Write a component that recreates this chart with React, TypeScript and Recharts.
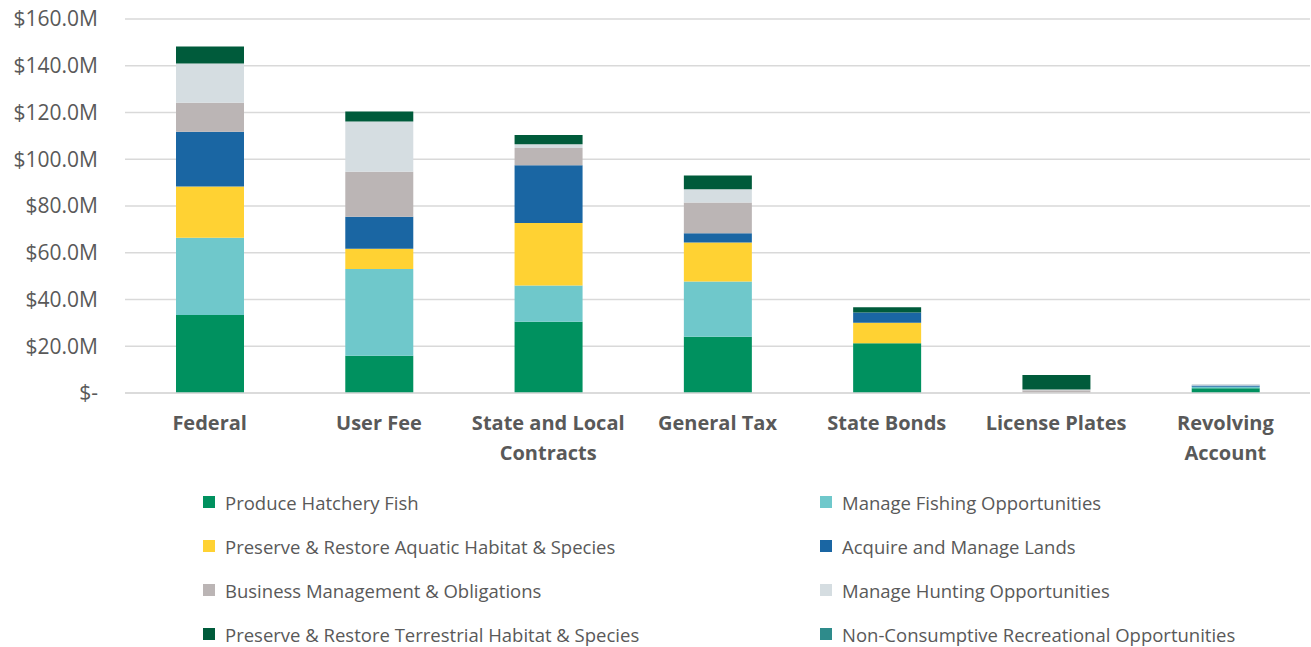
import React from 'react';
import { BarChart, Bar, XAxis, YAxis, CartesianGrid, Legend } from 'recharts';

const categories = ['Federal', 'User Fee', 'State and Local Contracts', 'General Tax', 'State Bonds', 'License Plates', 'Revolving Account'];

const hatcheryFish = [33.4, 15.9, 30.5, 24.1, 21.3, 0, 2.0];
const fishingOpps = [33.0, 37.2, 15.5, 23.6, 0, 0, 0.7];
const aquaticHabitat = [21.9, 8.6, 26.7, 16.7, 8.8, 0, 0];
const acquireLands = [23.5, 13.7, 24.7, 3.9, 4.3, 0, 0.5];
const businessMgmt = [12.4, 19.3, 7.4, 13.2, 0, 1.2, 0];
const huntingOpps = [16.8, 21.4, 1.6, 5.7, 0, 0.3, 0.6];
const terrestrialHabitat = [7.2, 4.3, 4.0, 5.8, 2.3, 6.2, 0];
const nonConsumptive = [0, 0, 0, 0, 0, 0, 0.1];

const yTicks = [0, 20, 40, 60, 80, 100, 120, 140, 160];

const seriesDefs = [
  { key: 'hatchery', name: 'Produce Hatchery Fish', values: hatcheryFish, color: '#00915F' },
  { key: 'fishing', name: 'Manage Fishing Opportunities', values: fishingOpps, color: '#6FC8CB' },
  { key: 'aquatic', name: 'Preserve & Restore Aquatic Habitat & Species', values: aquaticHabitat, color: '#FFD233' },
  { key: 'lands', name: 'Acquire and Manage Lands', values: acquireLands, color: '#1A66A3' },
  { key: 'business', name: 'Business Management & Obligations', values: businessMgmt, color: '#BBB5B5' },
  { key: 'hunting', name: 'Manage Hunting Opportunities', values: huntingOpps, color: '#D5DDE1' },
  { key: 'terrestrial', name: 'Preserve & Restore Terrestrial Habitat & Species', values: terrestrialHabitat, color: '#005B3B' },
  { key: 'noncons', name: 'Non-Consumptive Recreational Opportunities', values: nonConsumptive, color: '#2E8B8B' },
];

const data = categories.map((c, i) => {
  const row: Record<string, any> = { category: c };
  seriesDefs.forEach((s) => { row[s.key] = s.values[i]; });
  return row;
});

const FONT = '"Open Sans", sans-serif';
const TEXT_COLOR = '#595959';

function wrapLabel(text: string, maxChars = 15): string[] {
  const words = text.split(' ');
  const lines: string[] = [];
  let cur = '';
  words.forEach((w) => {
    const next = cur ? cur + ' ' + w : w;
    if (next.length > maxChars && cur) {
      lines.push(cur);
      cur = w;
    } else {
      cur = next;
    }
  });
  if (cur) lines.push(cur);
  return lines;
}

const XTick = (props: any) => {
  const { x, y, payload } = props;
  const lines = wrapLabel(String(payload.value));
  return (
    <g transform={`translate(${x},${y})`}>
      <text textAnchor="middle" fill={TEXT_COLOR} fontFamily={FONT} fontWeight={700} fontSize={20}>
        {lines.map((l, i) => (
          <tspan key={i} x={0} dy={i === 0 ? 29 : 30}>{l}</tspan>
        ))}
      </text>
    </g>
  );
};

const yFmt = (v: number) => (v === 0 ? '$-' : `$${v.toFixed(1)}M`);

const LegendContent = () => {
  const rows: any[][] = [];
  for (let i = 0; i < seriesDefs.length; i += 2) rows.push(seriesDefs.slice(i, i + 2));
  return (
    <div style={{ position: 'relative', width: 1311, height: 167, fontFamily: FONT }}>
      {rows.map((r, ri) =>
        r.map((s, ci) => (
          <div
            key={s.key}
            style={{
              position: 'absolute',
              left: ci === 0 ? 203 : 820,
              top: 22 + ri * 44 - 12,
              height: 24,
              display: 'flex',
              alignItems: 'center',
              whiteSpace: 'nowrap',
            }}
          >
            <span style={{ display: 'inline-block', width: 12, height: 12, background: s.color, marginRight: 10 }} />
            <span style={{ fontSize: 18.5, color: TEXT_COLOR }}>{s.name}</span>
          </div>
        ))
      )}
    </div>
  );
};

export default function App() {
  return (
    <div style={{ position: 'absolute', left: 0, top: 0, width: 1311, height: 647, background: '#fff' }}>
      <BarChart
        width={1311}
        height={647}
        data={data}
        margin={{ top: 19, right: 1, left: 0, bottom: 0 }}
        barSize={68}
      >
        <CartesianGrid vertical={false} stroke="#D9D9D9" strokeWidth={1.3} />
        <XAxis
          dataKey="category"
          height={87}
          tick={<XTick />}
          tickLine={false}
          axisLine={{ stroke: '#D9D9D9', strokeWidth: 1.3 }}
          interval={0}
        />
        <YAxis
          width={125}
          domain={[0, 160]}
          ticks={yTicks}
          tickFormatter={yFmt}
          tickLine={false}
          axisLine={false}
          tickSize={0}
          tickMargin={27}
          tick={{ fill: TEXT_COLOR, fontFamily: FONT, fontSize: 21 }}
        />
        <Legend verticalAlign="bottom" height={167} content={<LegendContent />} wrapperStyle={{ left: 0, width: 1311 }} />
        {seriesDefs.map((s) => (
          <Bar key={s.key} dataKey={s.key} name={s.name} stackId="a" fill={s.color} isAnimationActive={false} />
        ))}
      </BarChart>
    </div>
  );
}
